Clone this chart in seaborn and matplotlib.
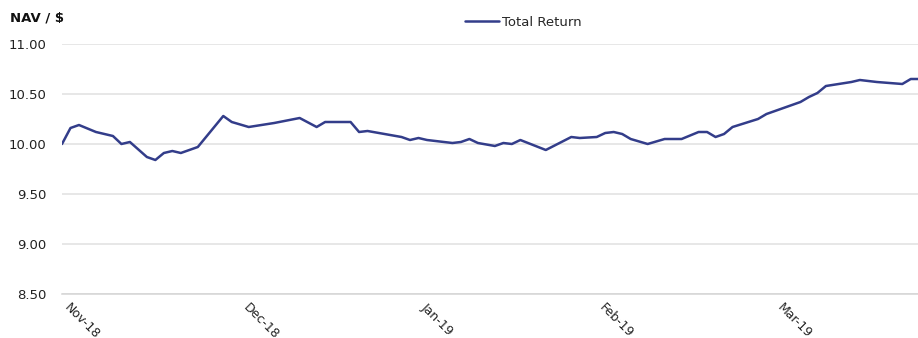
import matplotlib
matplotlib.use("Agg")
import matplotlib.pyplot as plt
import seaborn as sns
import pandas as pd

# Trading-session index (21 sessions per month slot) and NAV per unit
session = [0, 1, 2, 4, 6, 7, 8, 10, 11, 12, 13, 14, 16, 19, 20, 22, 25, 28,
           30, 31, 34, 35, 36, 40, 41, 42, 43, 46, 47, 48, 49, 51, 52, 53, 54,
           57, 60, 61, 63, 64, 65, 66, 67, 69, 71, 73, 75, 76, 77, 78, 79, 82,
           83, 84, 87, 88, 89, 90, 93, 94, 96, 99, 100, 101]
nav = [10.00, 10.16, 10.19, 10.12, 10.08, 10.00, 10.02, 9.87, 9.84, 9.91,
       9.93, 9.91, 9.97, 10.28, 10.22, 10.17, 10.21, 10.26, 10.17, 10.22,
       10.22, 10.12, 10.13, 10.07, 10.04, 10.06, 10.04, 10.01, 10.02, 10.05,
       10.01, 9.98, 10.01, 10.00, 10.04, 9.94, 10.07, 10.06, 10.07, 10.11,
       10.12, 10.10, 10.05, 10.00, 10.05, 10.05, 10.12, 10.12, 10.07, 10.10,
       10.17, 10.25, 10.30, 10.33, 10.42, 10.47, 10.51, 10.58, 10.62, 10.64,
       10.62, 10.60, 10.65, 10.65]

month_ticks = [0, 21, 42, 63, 84]
month_labels = ["Nov-18", "Dec-18", "Jan-19", "Feb-19", "Mar-19"]
y_ticks = [8.50, 9.00, 9.50, 10.00, 10.50, 11.00]
series_name = "Total Return"

df = pd.DataFrame({"session": session, "nav": nav, "series": series_name})

sns.set_style("white")
plt.rcParams["font.family"] = ["DejaVu Sans"]

fig = plt.figure(figsize=(9.18, 3.38), dpi=100)
ax = fig.add_axes([62 / 918, 1 - 294 / 338, 1 - 62 / 918, 250 / 338])

line_color = "#333D8A"
sns.lineplot(data=df, x="session", y="nav", hue="series",
             palette=[line_color], linewidth=1.8, ax=ax, legend=False)

ax.set_xlim(0, 100.85)
ax.set_ylim(8.5, 11.0)
ax.set_yticks(y_ticks)
ax.set_yticklabels([f"{v:.2f}" for v in y_ticks], fontsize=9.5, color="#222222")
ax.set_xticks(month_ticks)
ax.set_xticklabels(month_labels, rotation=-45, ha="left", va="top",
                   fontsize=9, color="#222222")

ax.grid(axis="y", color="#e0e0e0", linewidth=1.1)
ax.grid(axis="x", visible=False)
ax.set_axisbelow(True)
for side in ["left", "right", "top"]:
    ax.spines[side].set_visible(False)
ax.spines["bottom"].set_color("#d4d4d4")
ax.spines["bottom"].set_linewidth(1.1)
ax.tick_params(axis="y", length=0, pad=11)
ax.tick_params(axis="x", length=4, color="#c8c8c8", width=1, pad=1)
for lbl in ax.get_xticklabels():
    lbl.set_x(lbl.get_position()[0])
ax.set_xlabel("")
ax.set_ylabel("")

fig.text(10 / 918, 1 - 18 / 338, "NAV / $", fontsize=9.5, fontweight="bold",
         color="#111111", va="center", ha="left")

handle = plt.Line2D([], [], color=line_color, linewidth=1.8)
fig.legend([handle], [series_name], loc="center", frameon=False,
           bbox_to_anchor=(523 / 918, 1 - 22 / 338), fontsize=9.5,
           handlelength=2.6, handletextpad=0.2)

fig.savefig("out.png", dpi=100)
